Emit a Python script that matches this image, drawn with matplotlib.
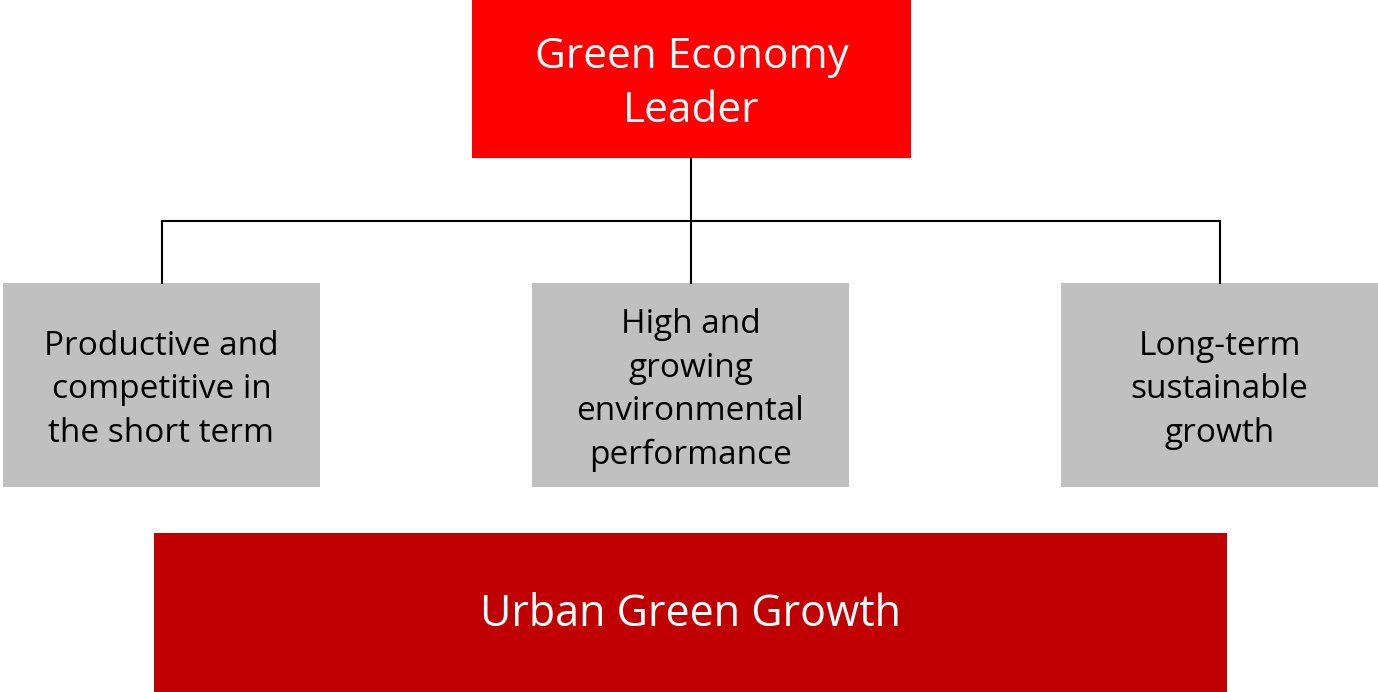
import matplotlib
matplotlib.use("Agg")
import matplotlib.pyplot as plt
from matplotlib.patches import Rectangle

top_label = "Green Economy\nLeader"
pillar_labels = [
    "Productive and\ncompetitive in\nthe short term",
    "High and\ngrowing\nenvironmental\nperformance",
    "Long-term\nsustainable\ngrowth",
]
base_label = "Urban Green Growth"

W, H = 1378, 692
fig = plt.figure(figsize=(W / 100, H / 100), dpi=100)
ax = fig.add_axes([0, 0, 1, 1])
ax.set_xlim(0, W)
ax.set_ylim(H, 0)
ax.axis("off")

font = "Open Sans"

# top box
ax.add_patch(Rectangle((472, 0), 439, 158, color="#FF0000", lw=0))
ax.text(691.5, 84, top_label, ha="center", va="center", color="white",
        fontsize=30.5, family=font, linespacing=1.4)

# connectors
pillar_x = [3, 532, 1061]
pillar_w = 317
centers = [x + pillar_w / 2 for x in pillar_x]
ax.plot([691, 691], [158, 283], color="black", lw=1.5)
ax.plot([centers[0], centers[-1]], [221, 221], color="black", lw=1.5)
for c in (centers[0], centers[-1]):
    ax.plot([c, c], [221, 283], color="black", lw=1.5)

# pillars
for x, c, lab in zip(pillar_x, centers, pillar_labels):
    ax.add_patch(Rectangle((x, 283), pillar_w, 204, color="#C0C0C0", lw=0))
    ax.text(c, 390, lab, ha="center", va="center", color="black",
            fontsize=24, family=font, linespacing=1.42)

# base
ax.add_patch(Rectangle((154, 533), 1073, 159, color="#C00000", lw=0))
ax.text(690.5, 615, base_label, ha="center", va="center", color="white",
        fontsize=31, family=font)

plt.savefig("out.png", dpi=100)
plt.close()
